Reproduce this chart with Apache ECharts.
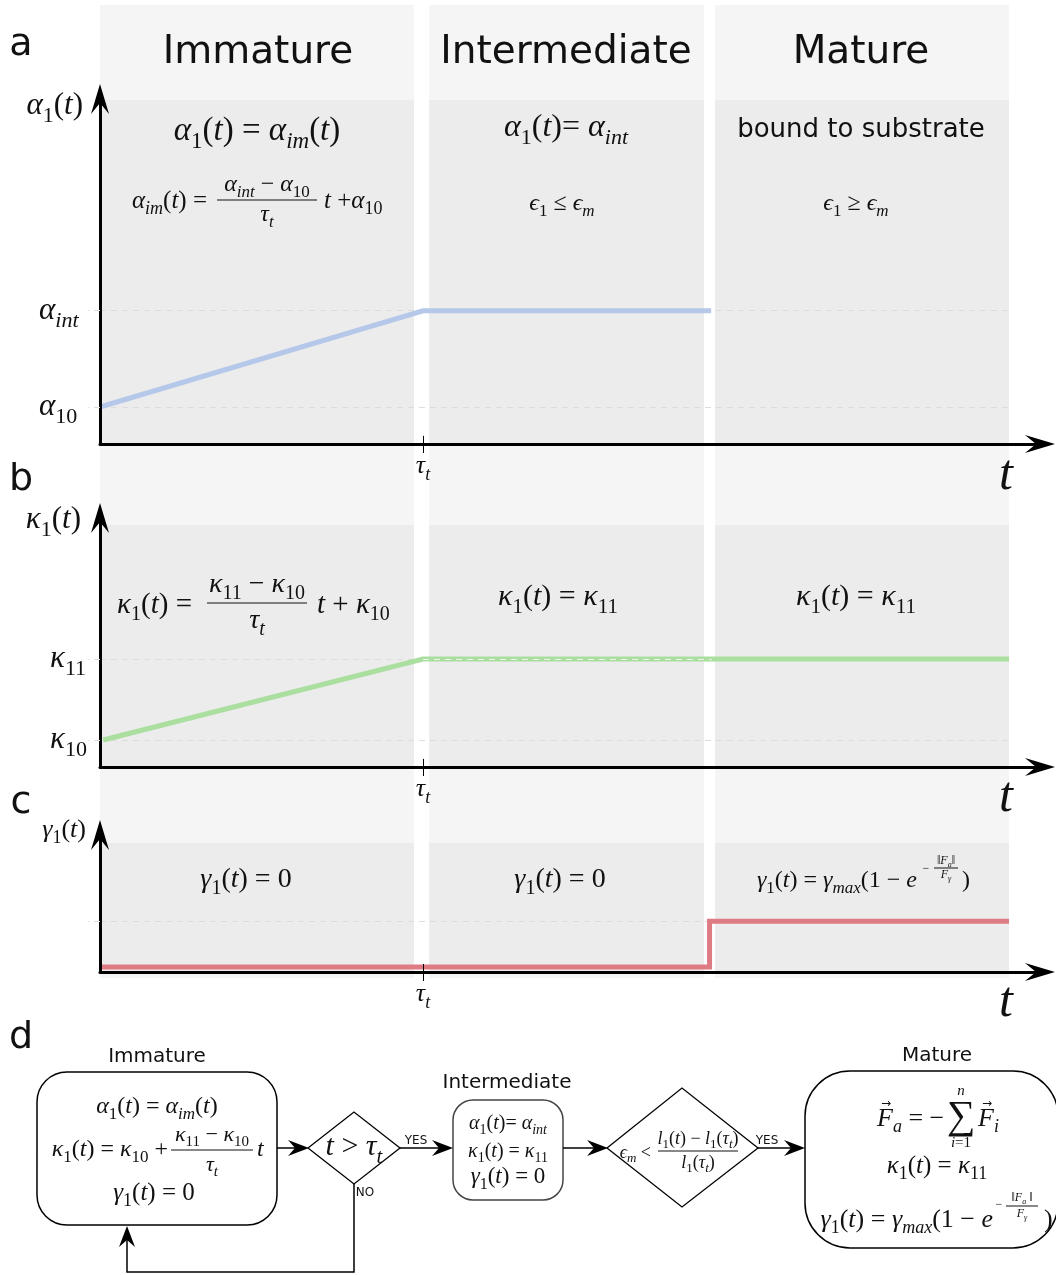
<!DOCTYPE html>
<html><head><meta charset="utf-8">
<script src="https://cdn.jsdelivr.net/npm/echarts@6/dist/echarts.min.js"></script>
<style>html,body{margin:0;padding:0;background:#fff}#c{width:1056px;height:1275px}</style>
</head><body><div id="c"></div>
<script>
// ---------------- data ----------------
const X_MAX = 29.1;                 // time axis extent (tau_t = 10)
const TAU = 10;
const PHASES = ['Immature', 'Intermediate', 'Mature'];
const PHASE_START = [0, 10.19, 19.04];
const PHASE_END = [9.72, 18.70, 28.14];
const X_TICKS = [TAU];
const X_TICK_LABELS = ['τ_t'];

const ALPHA_T = [0, 10, 18.92];
const ALPHA_V = [1, 3.6, 3.6];
const ALPHA_TICKS = [1, 3.6];
const ALPHA_TICK_LABELS = ['α_{10}', 'α_{int}'];

const KAPPA_T = [0.1, 10, 28.14];
const KAPPA_V = [1, 4, 4];
const KAPPA_TICKS = [1, 4];
const KAPPA_TICK_LABELS = ['κ_{10}', 'κ_{11}'];

const GAMMA_T = [0, 18.87, 18.87, 28.14];
const GAMMA_V = [0.35, 0.35, 3.6, 3.6];
const GAMMA_TICKS = [3.6];

const Y_MAX = [9.32, 9.22, 9.72];
const DARK_TOP = [9.29, 8.96, 9.15];
const TICK_UP = [0.22, 0.3, 0.57];   // upper half of the tau tick, in y units

const COLORS = { alpha: '#b5c8ea', kappa: '#aadf9f', gamma: '#df7b85', light: '#f5f5f5', dark: '#ececec', dash: '#dcdcdc' };

// ---------------- math text helpers ----------------
const FS = "'Liberation Serif','DejaVu Serif',serif";
function richFor(S, color) {
  const C = color || '#111';
  const L = Math.round(S * 1.35), s = Math.round(S * 0.7);
  const b = (size, it, lh, va) => ({ fontFamily: FS, fontSize: size, fontStyle: it ? 'italic' : 'normal', lineHeight: lh, verticalAlign: va, color: C, fill: C });
  return { r: b(S, 0, L, 'middle'), i: b(S, 1, L, 'middle'), sr: b(s, 0, s, 'bottom'), si: b(s, 1, s, 'bottom'), pr: b(s, 0, s, 'top'), pi: b(s, 1, s, 'top') };
}
function cls(ch) { return /[A-Za-z\u03B1-\u03C9\u03F5]/.test(ch) ? 'i' : 'r'; }
function m(src) {
  const tok = [];
  const push = (st, ch) => { if (tok.length && tok[tok.length - 1][0] === st) tok[tok.length - 1][1] += ch; else tok.push([st, ch]); };
  let i = 0;
  while (i < src.length) {
    const ch = src[i];
    if (ch === '_' || ch === '^') {
      const pre = ch === '_' ? 's' : 'p'; i++;
      let g;
      if (src[i] === '{') { const j = src.indexOf('}', i); g = src.slice(i + 1, j); i = j + 1; }
      else { g = src[i]; i++; }
      for (const c of g) push(pre + cls(c), c);
    } else { push(cls(ch), ch); i++; }
  }
  return tok.map(t => '{' + t[0] + '|' + t[1] + '}').join('');
}
function T(x, y, src, S, align) {
  return { type: 'text', x, y, z: 20, silent: true, style: { text: m(src), rich: richFor(S), align: align || 'center', verticalAlign: 'middle' } };
}
function SANS(x, y, text, size, align) {
  return { type: 'text', x, y, z: 20, silent: true, style: { text, font: size + 'px "DejaVu Sans"', fill: '#111', align: align || 'center', verticalAlign: 'middle' } };
}
function VEC(x, y, size) {   // small arrow accent above a vector symbol
  return { type: 'text', x, y, z: 21, silent: true, style: { text: '→', font: size + 'px "DejaVu Sans"', fill: '#111', align: 'center', verticalAlign: 'middle' } };
}
function frac(cx, barY, num, den, S, w, dy) {
  return [T(cx, barY - dy, num, S), { type: 'line', z: 20, silent: true, shape: { x1: cx - w / 2, y1: barY, x2: cx + w / 2, y2: barY }, style: { stroke: '#111', lineWidth: 1 } }, T(cx, barY + dy, den, S)];
}
function head(x, y, dir) {
  const pts = [[0, 0], [-21, -8], [-14, 0], [-21, 8]].map(([px, py]) => dir === 'right' ? [x + px, y + py] : [x + py, y - px]);
  return { type: 'polygon', z: 15, silent: true, shape: { points: pts }, style: { fill: '#000' } };
}
function pl(points, w) { return { type: 'polyline', z: 14, silent: true, shape: { points }, style: { stroke: '#000', lineWidth: w || 1.5, fill: null } }; }
function box(x, y, w, h, r, stroke) { return { type: 'rect', z: 12, silent: true, shape: { x, y, width: w, height: h, r }, style: { fill: '#fff', stroke: stroke || '#000', lineWidth: 1.5 } }; }
function poly(points) { return { type: 'polygon', z: 12, silent: true, shape: { points }, style: { fill: '#fff', stroke: '#000', lineWidth: 1.3 } }; }

// ---------------- graphics (annotations & flowchart) ----------------
const G = [];
// panel letters
G.push(SANS(21, 45, 'a', 38), SANS(21, 480, 'b', 38), SANS(21, 803, 'c', 38), SANS(21, 1038, 'd', 38));
// column headers
const HEADER_X = [258, 566, 861];
PHASES.forEach((p, k) => G.push(SANS(HEADER_X[k], 53, p, 39)));
// axis names
G.push(T(83, 106, 'α_1(t)', 31, 'right'), T(81, 520, 'κ_1(t)', 31, 'right'), T(86, 830, 'γ_1(t)', 26, 'right'));
// big t labels
G.push(T(1006, 476, 't', 50), T(1006, 798, 't', 50), T(1006, 1003, 't', 50));
// panel a equations
G.push(T(257, 131, 'α_1(t) = α_{im}(t)', 33));
G.push(T(207, 201, 'α_{im}(t) =', 25, 'right'), ...frac(267, 200, 'α_{int} − α_{10}', 'τ_t', 24, 100, 15), T(324, 201, 't +α_{10}', 25, 'left'));
G.push(T(566, 128, 'α_1(t)= α_{int}', 32));
G.push(T(562, 204, 'ϵ_1 ≤ ϵ_m', 24));
G.push(SANS(861, 130, 'bound to substrate', 26));
G.push(T(856, 204, 'ϵ_1 ≥ ϵ_m', 24));
// panel b equations
G.push(T(192, 605, 'κ_1(t) =', 29, 'right'), ...frac(257, 603, 'κ_{11} − κ_{10}', 'τ_t', 28, 100, 18), T(317, 605, 't + κ_{10}', 29, 'left'));
G.push(T(558, 597, 'κ_1(t) = κ_{11}', 30), T(856, 597, 'κ_1(t) = κ_{11}', 30));
// panel c equations
G.push(T(246, 880, 'γ_1(t) = 0', 28), T(560, 880, 'γ_1(t) = 0', 28));
G.push(T(917, 881, 'γ_1(t) = γ_{max}(1 − e', 24, 'right'), T(926, 869, '−', 12), ...frac(946, 868, '‖F_a‖', 'F_γ', 12, 24, 7), T(962, 881, ')', 24, 'left'));

// ---- flowchart (d) ----
G.push(SANS(157, 1057, 'Immature', 20), SANS(507, 1083, 'Intermediate', 20), SANS(937, 1056, 'Mature', 20));
G.push(box(37, 1072, 240, 153, 30));
G.push(T(157, 1107, 'α_1(t) = α_{im}(t)', 24));
G.push(T(168, 1150, 'κ_1(t) = κ_{10} +', 24, 'right'), ...frac(212, 1150, 'κ_{11} − κ_{10}', 'τ_t', 22, 82, 15), T(257, 1150, 't', 24, 'left'));
G.push(T(154, 1193, 'γ_1(t) = 0', 25));
G.push(pl([[277, 1148], [300, 1148]]), head(309, 1148, 'right'));
G.push(poly([[308, 1148], [354, 1112], [400, 1148], [354, 1184]]), T(354, 1147, 't > τ_t', 30));
G.push(SANS(416, 1141, 'YES', 12), pl([[400, 1148], [445, 1148]]), head(453, 1148, 'right'));
G.push(SANS(365, 1193, 'NO', 12), pl([[354, 1184], [354, 1272], [127, 1272], [127, 1232]]), head(127, 1226, 'up'));
G.push(box(453, 1100, 110, 100, 20, '#444'));
G.push(T(508, 1124, 'α_1(t)= α_{int}', 20), T(508, 1152, 'κ_1(t) = κ_{11}', 20), T(508, 1177, 'γ_1(t) = 0', 23));
G.push(pl([[563, 1148], [600, 1148]]), head(608, 1148, 'right'));
G.push(poly([[607, 1148], [682, 1088], [758, 1148], [682, 1207]]));
G.push(T(651, 1153, 'ϵ_m <', 18, 'right'), ...frac(698, 1151, 'l_1(t) − l_1(τ_t)', 'l_1(τ_t)', 18, 80, 12));
G.push(SANS(767, 1141, 'YES', 12), pl([[758, 1148], [797, 1148]]), head(805, 1148, 'right'));
G.push(box(805, 1071, 253, 177, 45));
G.push(T(877, 1119, 'F_a = −', 26, 'left'), VEC(886, 1104, 12), T(961, 1117, '∑', 40), T(961, 1091, 'n', 15), T(961, 1143, 'i=1', 15), T(978, 1119, 'F_i', 26, 'left'), VEC(987, 1104, 12));
G.push(T(937, 1166, 'κ_1(t) = κ_{11}', 25));
G.push(T(993, 1220, 'γ_1(t) = γ_{max}(1 − e', 26, 'right'), T(999, 1205, '−', 12), ...frac(1022, 1206, '‖F_a ‖', 'F_γ', 12, 32, 8), T(1044, 1220, ')', 26, 'left'));

// ---------------- chart option ----------------
const idx = (arr, v) => { let b = 0; arr.forEach((a, i) => { if (Math.abs(a - v) < Math.abs(arr[b] - v)) b = i; }); return b; };
const grids = [
  { left: 100, top: 5, width: 940, height: 973 },
  { left: 100, top: 99, width: 940, height: 345 },
  { left: 100, top: 518, width: 940, height: 249 },
  { left: 100, top: 835, width: 940, height: 137 }
];
const ARROW = 'path://M9,0 L18,30 L9,19 L0,30 Z';
const axisLineStyle = { show: true, onZero: false, symbol: ['none', ARROW], symbolSize: [18, 30], lineStyle: { color: '#000', width: 3 } };
const xAxes = [{ gridIndex: 0, type: 'value', min: 0, max: X_MAX, show: false }];
const yAxes = [{ gridIndex: 0, type: 'value', min: 0, max: 1, show: false }];
const Y_TICKS = [ALPHA_TICKS, KAPPA_TICKS, GAMMA_TICKS];
const Y_LABELS = [ALPHA_TICK_LABELS, KAPPA_TICK_LABELS, []];
const Y_LABEL_MARGIN = [61, 50, 50];
for (let k = 0; k < 3; k++) {
  xAxes.push({
    gridIndex: k + 1, type: 'value', min: 0, max: X_MAX, z: 10, axisLine: axisLineStyle,
    axisTick: { show: true, customValues: X_TICKS, length: 9, lineStyle: { color: '#000', width: 1 } },
    axisLabel: { show: true, customValues: X_TICKS, margin: 5, formatter: v => m(X_TICK_LABELS[idx(X_TICKS, v)]), rich: richFor(26) },
    splitLine: { show: false }
  });
  yAxes.push({
    gridIndex: k + 1, type: 'value', min: 0, max: Y_MAX[k], z: 10, axisLine: axisLineStyle,
    axisTick: { show: true, customValues: Y_TICKS[k], length: 12, lineStyle: { color: COLORS.dash, width: 1, type: [6, 5] } },
    axisLabel: { show: Y_LABELS[k].length > 0, customValues: Y_TICKS[k], margin: Y_LABEL_MARGIN[k], align: 'left',
      formatter: v => m(Y_LABELS[k][idx(Y_TICKS[k], v)] || ''), rich: richFor(31) },
    splitLine: { show: false }
  });
}
const series = [];
// light column backdrop
series.push({ type: 'line', xAxisIndex: 0, yAxisIndex: 0, data: [[0, 0]], symbol: 'none', silent: true, z: 0,
  lineStyle: { opacity: 0 },
  markArea: { silent: true, z: 0, itemStyle: { color: COLORS.light }, data: PHASES.map((p, i) => [{ xAxis: PHASE_START[i] }, { xAxis: PHASE_END[i] }]) } });
const DATA = [
  [ALPHA_T, ALPHA_V, COLORS.alpha],
  [KAPPA_T, KAPPA_V, COLORS.kappa],
  [GAMMA_T, GAMMA_V, COLORS.gamma]
];
for (let k = 0; k < 3; k++) {
  // dark panel areas
  series.push({ type: 'line', xAxisIndex: k + 1, yAxisIndex: k + 1, data: [[0, 0]], symbol: 'none', silent: true, z: 1,
    lineStyle: { opacity: 0 },
    markArea: { silent: true, z: 1, itemStyle: { color: COLORS.dark }, data: PHASES.map((p, i) => [{ xAxis: PHASE_START[i], yAxis: 0 }, { xAxis: PHASE_END[i], yAxis: DARK_TOP[k] }]) } });
  // dashed reference lines
  series.push({ type: 'line', xAxisIndex: k + 1, yAxisIndex: k + 1, data: [[0, 0]], symbol: 'none', silent: true, z: 2,
    lineStyle: { opacity: 0 },
    markLine: { silent: true, z: 2, symbol: 'none', label: { show: false }, lineStyle: { color: COLORS.dash, width: 1, type: [6, 5] },
      data: Y_TICKS[k].map(v => [{ coord: [0, v] }, { coord: [PHASE_END[2], v] }]) } });
  // upper half of the tau tick (the tick crosses the axis)
  series.push({ type: 'line', xAxisIndex: k + 1, yAxisIndex: k + 1, data: [[0, 0]], symbol: 'none', silent: true, z: 2,
    lineStyle: { opacity: 0 },
    markLine: { silent: true, z: 11, symbol: 'none', label: { show: false }, lineStyle: { color: '#000', width: 1, type: 'solid' },
      data: X_TICKS.map(v => [{ coord: [v, 0] }, { coord: [v, TICK_UP[k]] }]) } });
  // data line
  const [tt, vv, col] = DATA[k];
  series.push({ type: 'line', xAxisIndex: k + 1, yAxisIndex: k + 1, data: tt.map((t, i) => [t, vv[i]]), symbol: 'none', silent: true, z: 3,
    lineStyle: { color: col, width: 5, cap: 'butt', join: 'miter' } });
}
// white dashes drawn over the kappa plateau in the intermediate column
series.push({ type: 'line', xAxisIndex: 2, yAxisIndex: 2, data: [[0, 0]], symbol: 'none', silent: true, z: 4,
  lineStyle: { opacity: 0 },
  markLine: { silent: true, z: 4, symbol: 'none', label: { show: false }, lineStyle: { color: '#eef5ec', width: 1, type: [6, 5] },
    data: [[{ coord: [TAU, KAPPA_V[1]] }, { coord: [PHASE_START[2] - 0.1, KAPPA_V[1]] }]] } });

const chart = echarts.init(document.getElementById('c'), null, { renderer: 'canvas' });
chart.setOption({
  backgroundColor: '#ffffff',
  animation: false,
  grid: grids,
  xAxis: xAxes,
  yAxis: yAxes,
  series,
  graphic: { elements: G }
});
</script>
</body></html>
